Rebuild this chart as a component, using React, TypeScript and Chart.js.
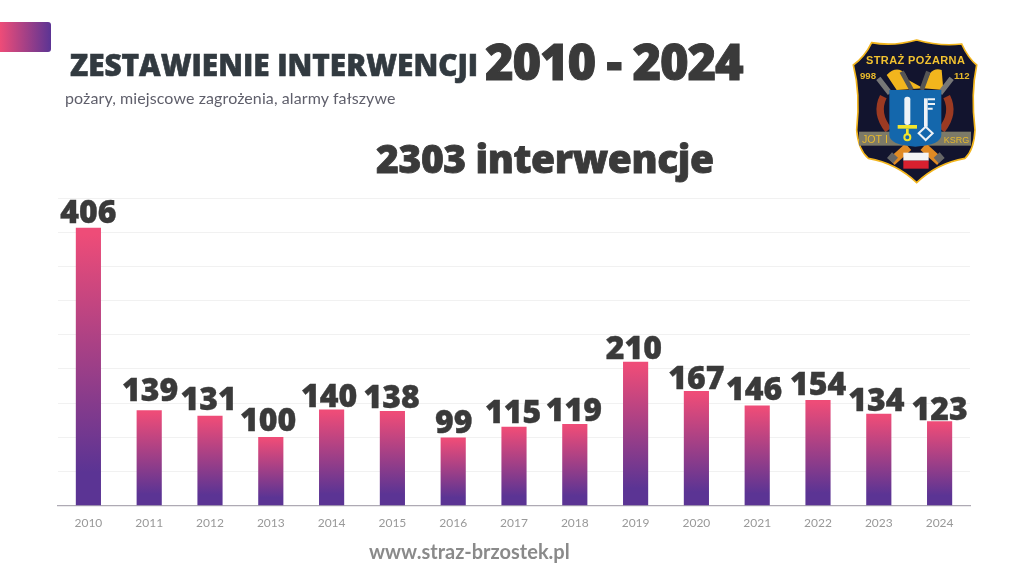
import React, { useEffect, useRef } from "react";
import { Chart, registerables } from "chart.js";

Chart.register(...registerables);

const years = ["2010", "2011", "2012", "2013", "2014", "2015", "2016", "2017", "2018", "2019", "2020", "2021", "2022", "2023", "2024"];
const interventions = [406, 139, 131, 100, 140, 138, 99, 115, 119, 210, 167, 146, 154, 134, 123];
const yMax = 450;
const yStep = 50;

// hand-placed value labels in the original: offset from the top-centre of each bar
const labelGap = [5, 9.6, 6, 6, 2.5, 3.3, 5.4, 3.7, 3.3, 3, 2.5, 5.7, 5.7, 3, 2];
const labelShift = [0, 1, -1.3, -2.7, -2.4, -0.8, 0.6, -1, -1, -1.8, 0, -3, 0, -2.5, 0];

const PINK = "#EE4C78";
const PURPLE = "#5B3494";
const DARK = "#3a3a3a";
const HEAD = "#323a40";

const valueLabels = {
  id: "valueLabels",
  afterDatasetsDraw(chart: any) {
    const { ctx } = chart;
    const meta = chart.getDatasetMeta(0);
    ctx.save();
    ctx.font = "800 32px 'Open Sans'";
    ctx.fillStyle = DARK;
    ctx.strokeStyle = DARK;
    ctx.lineWidth = 0.4;
    ctx.textAlign = "center";
    ctx.textBaseline = "alphabetic";
    meta.data.forEach((bar: any, i: number) => {
      const x = bar.x + labelShift[i];
      const y = bar.y - labelGap[i];
      ctx.fillText(String(interventions[i]), x, y);
      ctx.strokeText(String(interventions[i]), x, y);
    });
    ctx.restore();
  },
};

const abs = (left: number, top: number, extra: any): any => ({
  position: "absolute",
  left,
  top,
  whiteSpace: "nowrap",
  lineHeight: 1,
  ...extra,
});

function Logo() {
  return (
    <svg width={150} height={160} viewBox="0 0 450 480" style={{ position: "absolute", left: 840, top: 30 }}>
      <path d="M230 30 Q160 50 95 38 Q75 80 40 105 Q62 190 50 300 Q55 360 85 385 Q170 400 230 458 Q290 400 375 385 Q402 360 405 300 Q392 190 410 105 Q385 85 365 42 Q300 50 230 30 Z" fill="#12142e" stroke="#f2b51d" strokeWidth={5} />
      <text x={227} y={103} textAnchor="middle" fontFamily="Liberation Sans" fontWeight={700} fontSize={33} fill="#f2c230" letterSpacing={1.2}>STRAŻ POŻARNA</text>
      <text x={60} y={147} fontFamily="Liberation Sans" fontWeight={700} fontSize={29} fill="#e8b92c">998</text>
      <text x={342} y={147} fontFamily="Liberation Sans" fontWeight={700} fontSize={29} fill="#e8b92c">112</text>
      <path d="M140 135 Q170 105 195 130 L205 150 L250 175 L170 180 Z" fill="#f2b51d" />
      <path d="M305 120 Q285 112 270 130 L250 175 L310 180 Z" fill="#f2b51d" />
      <path d="M115 145 L150 190 M335 145 L300 190" stroke="#777" strokeWidth={16} />
      <path d="M185 125 L215 180 M265 125 L245 180" stroke="#555" strokeWidth={14} />
      <path d="M130 200 Q105 250 145 300 M320 200 Q345 250 305 300" stroke="#9c3a22" strokeWidth={22} fill="none" />
      <rect x={57} y={305} width={336} height={42} fill="#7c7a68" />
      <path d="M205 350 L155 395 M250 350 L300 395" stroke="#e08a24" strokeWidth={26} />
      <path d="M165 375 L150 392 M290 375 L305 392" stroke="#666" strokeWidth={24} />
      <path d="M148 180 H304 V315 Q304 345 226 350 Q148 345 148 315 Z" fill="#1467ac" />
      <text x={66} y={339} fontFamily="Liberation Sans" fontSize={32} fill="#e8b92c">JOT I</text>
      <text x={311} y={338} fontFamily="Liberation Sans" fontSize={27} fill="#e8b92c">KSRG</text>
      <rect x={193} y={200} width={18} height={85} rx={8} fill="#eef2f6" />
      <rect x={173} y={285} width={58} height={11} fill="#f2e52c" />
      <circle cx={202} cy={322} r={9} fill="none" stroke="#f2e52c" strokeWidth={6} />
      <rect x={198} y={296} width={8} height={18} fill="#f2e52c" />
      <rect x={252} y={205} width={11} height={85} fill="#eef2f6" />
      <path d="M263 208 H285 M263 222 H285 M263 236 H278" stroke="#eef2f6" strokeWidth={6} />
      <path d="M257 290 L278 310 L257 330 L236 310 Z" fill="none" stroke="#eef2f6" strokeWidth={6} />
      <rect x={190} y={368} width={76} height={24} fill="#f4f4f4" />
      <rect x={190} y={392} width={76} height={24} fill="#d8202f" />
    </svg>
  );
}

export default function App() {
  const ref = useRef<HTMLCanvasElement>(null);

  useEffect(() => {
    document.body.style.margin = "0";
    document.body.style.background = "#fff";
    const chart = new Chart(ref.current as HTMLCanvasElement, {
      type: "bar",
      data: {
        labels: years,
        datasets: [
          {
            data: interventions,
            barThickness: 24.5,
            borderWidth: 0,
            backgroundColor: (c: any) => {
              const area = c.chart.chartArea;
              if (!area || c.raw === undefined) return PINK;
              const top = c.chart.scales.y.getPixelForValue(c.raw);
              const g = c.chart.ctx.createLinearGradient(0, top, 0, area.bottom);
              g.addColorStop(0.02, PINK);
              g.addColorStop(0.88, PURPLE);
              g.addColorStop(1, PURPLE);
              return g;
            },
          },
        ],
      },
      options: {
        responsive: false,
        animation: false,
        devicePixelRatio: 1,
        layout: { padding: { left: 58, right: 54, top: 198, bottom: 36 } },
        plugins: { legend: { display: false }, title: { display: false }, tooltip: { enabled: false } },
        scales: {
          x: {
            grid: { display: false, drawTicks: false },
            border: { color: "#aeaab4", width: 1.2 },
            ticks: { color: "#999999", font: { family: "Lato", size: 12 }, padding: 10, maxRotation: 0 },
          },
          y: {
            min: 0,
            max: yMax,
            afterFit: (s: any) => { s.width = 0; },
            ticks: { display: false, stepSize: yStep },
            border: { display: false },
            grid: { color: "#f1f1f1", lineWidth: 1, drawTicks: false },
          },
        },
      },
      plugins: [valueLabels],
    } as any);
    return () => chart.destroy();
  }, []);

  const heavy = (c: string, w: number) => ({ WebkitTextStroke: `${w}px ${c}` });

  return (
    <div style={{ position: "relative", width: 1024, height: 576, overflow: "hidden", background: "#fff" }}>
      <canvas ref={ref} width={1024} height={576} style={{ position: "absolute", left: 0, top: 0, display: "block" }} />
      <div style={{ position: "absolute", left: 0, top: 22, width: 51, height: 30, borderRadius: "0 3px 3px 0", background: `linear-gradient(90deg, ${PINK}, ${PURPLE})` }} />
      <div style={abs(70, 50, { fontFamily: "Open Sans", fontWeight: 800, fontSize: 29.7, color: HEAD, ...heavy(HEAD, 0.6) })}>ZESTAWIENIE INTERWENCJI</div>
      <div style={abs(485, 37, { fontFamily: "Open Sans", fontWeight: 800, fontSize: 49, letterSpacing: -1.2, color: DARK, ...heavy(DARK, 0.9) })}>2010 - 2024</div>
      <div style={abs(65, 90, { fontFamily: "Lato", fontSize: 16, letterSpacing: 0.1, color: "#5f5f6b" })}>pożary, miejscowe zagrożenia, alarmy fałszywe</div>
      <div style={abs(376, 138, { fontFamily: "Open Sans", fontWeight: 800, fontSize: 39, letterSpacing: -0.4, color: DARK, ...heavy(DARK, 0.8) })}>2303 interwencje</div>
      <div style={abs(369, 541, { fontFamily: "Lato", fontWeight: 700, fontSize: 20, color: "#8a8a8a" })}>www.straz-brzostek.pl</div>
      <Logo />
    </div>
  );
}
